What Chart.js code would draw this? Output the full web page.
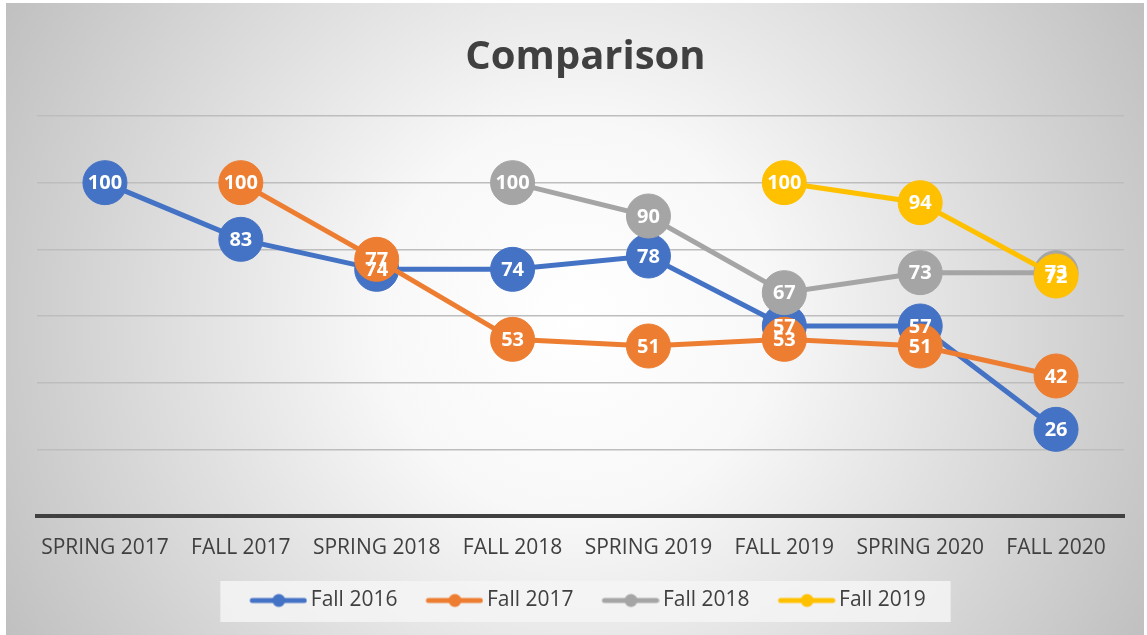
<!DOCTYPE html>
<html>
<head>
<meta charset="utf-8">
<title>Comparison</title>
<script src="https://cdn.jsdelivr.net/npm/chart.js@4"></script>
<style>
  html, body { margin: 0; padding: 0; background: #fff; }
  #wrap { width: 1147px; height: 635px; }
</style>
</head>
<body>
<div id="wrap"><canvas id="chart" width="1147" height="635"></canvas></div>
<script>
const categories = ['SPRING 2017', 'FALL 2017', 'SPRING 2018', 'FALL 2018', 'SPRING 2019', 'FALL 2019', 'SPRING 2020', 'FALL 2020'];
const fall2016 = [100, 83, 74, 74, 78, 57, 57, 26];
const fall2017 = [null, 100, 77, 53, 51, 53, 51, 42];
const fall2018 = [null, null, null, 100, 90, 67, 73, 73];
const fall2019 = [null, null, null, null, null, 100, 94, 72];
const seriesNames = ['Fall 2016', 'Fall 2017', 'Fall 2018', 'Fall 2019'];
const seriesData = [fall2016, fall2017, fall2018, fall2019];
const seriesColors = ['#4472C4', '#ED7D31', '#A5A5A5', '#FFC000'];
const yMin = 0, yMax = 120, yStep = 20;

Chart.defaults.font.family = "'Open Sans', 'Noto Sans', sans-serif";
const textColor = '#404040';

// legend icon: thick line with a dot in the middle
function makeIcon(color) {
    const c = document.createElement('canvas');
    c.width = 69; c.height = 16;
    const g = c.getContext('2d');
    g.strokeStyle = color;
    g.lineWidth = 5;
    g.lineCap = 'round';
    g.beginPath();
    g.moveTo(c.width - 55, 8);
    g.lineTo(c.width - 3, 8);
    g.stroke();
    g.fillStyle = color;
    g.beginPath();
    g.arc(c.width - 28.5, 8, 6.5, 0, Math.PI * 2);
    g.fill();
    return c;
}
const icons = seriesColors.map(makeIcon);

const backgroundPlugin = {
    id: 'bg',
    beforeDraw(chart) {
        const ctx = chart.ctx;
        const w = chart.width, h = chart.height;
        ctx.save();
        ctx.fillStyle = '#ffffff';
        ctx.fillRect(0, 0, w, h);
        const x0 = 6, y0 = 3, x1 = 1144, y1 = h;
        const cx = (x0 + x1) / 2, cy = (y0 + y1) / 2;
        const r = Math.hypot(x1 - cx, y1 - cy);
        const grad = ctx.createRadialGradient(cx, cy, 0, cx, cy, r);
        grad.addColorStop(0, '#ffffff');
        grad.addColorStop(0.3, '#f8f8f8');
        grad.addColorStop(1, '#c0c0c0');
        ctx.fillStyle = grad;
        ctx.fillRect(x0, y0, x1 - x0, y1 - y0);

        // legend frame
        const lg = chart.legend;
        if (lg && lg.legendHitBoxes && lg.legendHitBoxes.length) {
            const hb = lg.legendHitBoxes;
            const first = hb[0], last = hb[hb.length - 1];
            const left = first.left - 25;
            const right = last.left + last.width + 25;
            ctx.fillStyle = 'rgba(245,245,245,0.85)';
            ctx.fillRect(left, first.top - 9, right - left, 41);
        }
        ctx.restore();
    }
};

const labelPlugin = {
    id: 'pointLabels',
    afterDatasetsDraw(chart) {
        const ctx = chart.ctx;
        ctx.save();
        ctx.font = "bold 20px 'Open Sans', sans-serif";
        ctx.fillStyle = '#ffffff';
        ctx.textAlign = 'center';
        ctx.textBaseline = 'middle';
        chart.data.datasets.forEach((ds, i) => {
            const meta = chart.getDatasetMeta(i);
            meta.data.forEach((pt, j) => {
                const v = ds.data[j];
                if (v === null || v === undefined) return;
                ctx.fillText(String(v), pt.x, pt.y + 1);
            });
        });
        ctx.restore();
    }
};

const datasets = seriesNames.map((name, i) => ({
    label: name,
    data: seriesData[i],
    borderColor: seriesColors[i],
    backgroundColor: seriesColors[i],
    borderWidth: 5,
    pointRadius: 22,
    pointHoverRadius: 22,
    pointBackgroundColor: seriesColors[i],
    pointBorderColor: seriesColors[i],
    pointBorderWidth: 1,
    tension: 0,
    spanGaps: false,
    order: seriesNames.length - 1 - i
}));

new Chart(document.getElementById('chart'), {
    type: 'line',
    data: { labels: categories, datasets: datasets },
    options: {
        responsive: false,
        animation: false,
        events: [],
        layout: { padding: { top: 0, left: 37, right: 13, bottom: 14 } },
        scales: {
            x: {
                offset: true,
                grid: { display: false, drawTicks: false },
                border: { display: true, color: '#404040', width: 4 },
                ticks: { color: textColor, font: { size: 21 }, padding: 19, maxRotation: 0, autoSkip: false },
                afterFit: s => { s.height = 50; s.paddingLeft = 0; s.paddingRight = 0; }
            },
            y: {
                min: yMin,
                max: yMax,
                ticks: { display: false, stepSize: yStep },
                grid: {
                    drawTicks: false,
                    lineWidth: 1.5,
                    color: c => c.tick && c.tick.value === 0 ? 'rgba(0,0,0,0)' : '#bdbdbd'
                },
                border: { display: false },
                afterFit: s => { s.width = 0; }
            }
        },
        plugins: {
            title: {
                display: true,
                text: 'Comparison',
                color: textColor,
                font: { size: 40, weight: 'bold' },
                padding: { top: 34, bottom: 34 }
            },
            legend: {
                position: 'bottom',
                maxHeight: 66,
                labels: {
                    color: textColor,
                    font: { size: 21 },
                    usePointStyle: true,
                    pointStyleWidth: 55,
                    padding: 24,
                    sort: (a, b) => a.datasetIndex - b.datasetIndex,
                    generateLabels: chart => {
                        const items = Chart.defaults.plugins.legend.labels.generateLabels(chart);
                        items.forEach(it => { it.pointStyle = icons[it.datasetIndex]; });
                        return items;
                    }
                }
            },
            tooltip: { enabled: false }
        }
    },
    plugins: [backgroundPlugin, labelPlugin]
});
</script>
</body>
</html>
